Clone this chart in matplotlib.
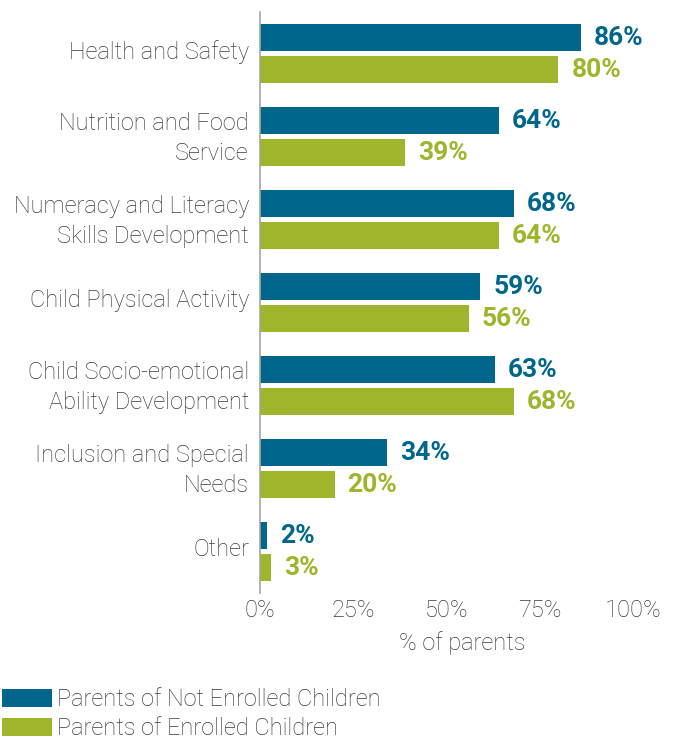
import matplotlib
matplotlib.use("Agg")
import matplotlib.pyplot as plt
import matplotlib.transforms as mtrans
from matplotlib.patches import Patch
import numpy as np

categories = ["Health and Safety", "Nutrition and Food\nService",
              "Numeracy and Literacy\nSkills Development", "Child Physical Activity",
              "Child Socio-emotional\nAbility Development", "Inclusion and Special\nNeeds",
              "Other"]
not_enrolled = [86, 64, 68, 59, 63, 34, 2]
enrolled = [80, 39, 64, 56, 68, 20, 3]
series_names = ["Parents of Not Enrolled Children", "Parents of Enrolled Children"]
xticks = [0, 25, 50, 75, 100]
xlabel = "% of parents"

BLUE = "#00668C"
GREEN = "#A0B52B"
TEXT = "#3A3A3A"
FONT = "Roboto"
LW = "light"

plt.rcParams['font.family'] = [FONT, 'DejaVu Sans']

fig = plt.figure(figsize=(6.82, 7.40), dpi=100)
ax = fig.add_axes([260/682, 1-593/740, 373/682, 581/740])

y = np.arange(len(categories))
h = 0.325
off = 0.19
ax.barh(y - off, not_enrolled, height=h, color=BLUE)
ax.barh(y + off, enrolled, height=h, color=GREEN)

for yi, v in zip(y, not_enrolled):
    ax.annotate(f"{v}%", (v, yi - off), xytext=(13, 0), textcoords="offset pixels",
                va="center", ha="left", color=BLUE, fontsize=19, fontweight="bold")
for yi, v in zip(y, enrolled):
    ax.annotate(f"{v}%", (v, yi + off), xytext=(13, -1), textcoords="offset pixels",
                va="center", ha="left", color=GREEN, fontsize=19, fontweight="bold")

ax.set_ylim(len(categories) - 0.5, -0.5)
ax.set_xlim(0, 100)
ax.set_yticks(y)
ax.set_yticklabels(categories, fontsize=17, color=TEXT, fontweight=LW, linespacing=1.4)
ax.set_xticks(xticks)
ax.set_xticklabels([f"{t}%" for t in xticks], fontsize=17, color=TEXT, fontweight=LW)
ax.tick_params(axis="y", length=0, pad=8)
ax.tick_params(axis="x", length=0, pad=4)
shift = mtrans.ScaledTranslation(0, 4/100, fig.dpi_scale_trans)
for lab in ax.get_yticklabels():
    lab.set_transform(lab.get_transform() + shift)
for s in ["top", "right", "bottom"]:
    ax.spines[s].set_visible(False)
ax.spines["left"].set_color("#A6A6A6")
ax.spines["left"].set_linewidth(1.2)
ax.set_xlabel(xlabel, fontsize=17, color=TEXT, fontweight=LW)
ax.xaxis.set_label_coords(0.542, -0.065)

handles = [Patch(facecolor=BLUE), Patch(facecolor=GREEN)]
leg = fig.legend(handles, series_names, loc="upper left", bbox_to_anchor=(2/682, 1-688/740),
                 frameon=False, fontsize=17, handlelength=2.1, handleheight=0.8,
                 handletextpad=0.25, labelspacing=0.25, borderaxespad=0, borderpad=0)
for t in leg.get_texts():
    t.set_color(TEXT)
    t.set_fontweight(LW)

fig.savefig("out.png", dpi=100)
